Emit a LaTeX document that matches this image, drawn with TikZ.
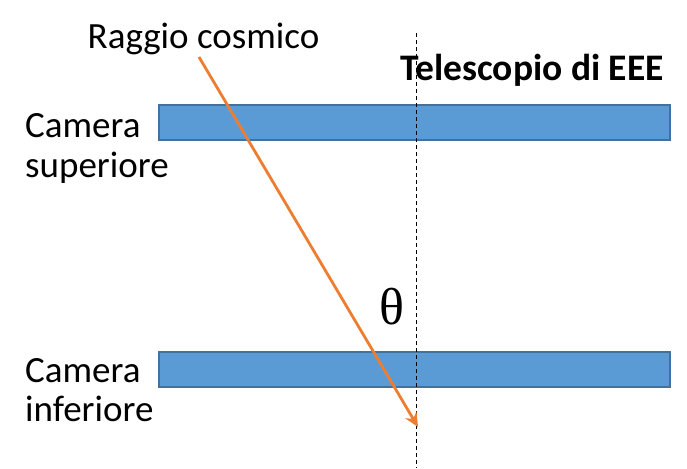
\documentclass[tikz,border=0pt]{standalone}
\usepackage{fontspec}
\usetikzlibrary{arrows.meta}
\setmainfont{Carlito}
\newfontfamily\thetafont{Liberation Serif}
\definecolor{barfill}{HTML}{5B9BD5}
\definecolor{barline}{HTML}{41719C}
\definecolor{rayorange}{HTML}{ED7D31}
\begin{document}
\begin{tikzpicture}[x=1pt,y=-1pt,
  bar/.style={draw=barline,line width=2pt,fill=barfill,inner sep=0pt,anchor=north west,
    minimum width=511pt,minimum height=35pt},
  lbl/.style={font=\fontsize{37}{41}\selectfont,inner sep=0pt,anchor=base west,align=left},
  ray/.style={draw=rayorange,line width=2.8pt,-{Stealth[length=14pt,width=13pt]}},
  axis/.style={draw=black,line width=1pt,dash pattern=on 4pt off 3pt}]
\useasboundingbox (0,0) rectangle (687,468);
\node[bar] (top) at (158,104) {};
\node[bar] (bot) at (158,351) {};
\coordinate (axtop) at (416,33);
\coordinate (axbot) at (416,468);
\draw[axis] (axtop) -- (axbot);
\coordinate (raystart) at (199,57);
\coordinate (rayend) at (418,427);
\draw[ray] (raystart) -- (rayend);
\node[lbl,anchor=base] (ray) at (203.5,49) {Raggio cosmico};
\node[lbl,anchor=base west,font=\fontsize{37.5}{40}\selectfont\bfseries] (tel) at (400,81) {Telescopio di EEE};
\node[lbl] (cs1) at (25,137) {Camera};
\node[lbl] (cs2) at (25,177) {superiore};
\node[lbl] (ci1) at (25,382) {Camera};
\node[lbl] (ci2) at (25,421) {inferiore};
\node[inner sep=0pt,font=\fontsize{52}{56}\thetafont] (theta) at (392,307) {θ};
\end{tikzpicture}
\end{document}
